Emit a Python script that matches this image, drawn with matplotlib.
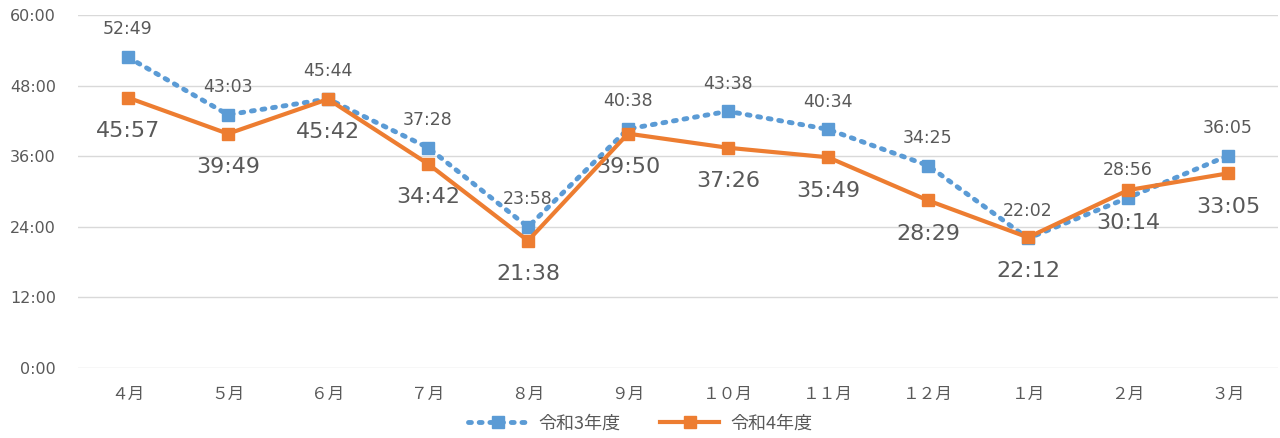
import matplotlib
matplotlib.use('Agg')
import matplotlib.pyplot as plt
from matplotlib.ticker import FixedLocator, FuncFormatter

plt.rcParams['font.family'] = ['Noto Sans CJK JP', 'DejaVu Sans']

# データ（分:秒）
months = ['４月', '５月', '６月', '７月', '８月', '９月', '１０月', '１１月', '１２月', '１月', '２月', '３月']
r3_times = ['52:49', '43:03', '45:44', '37:28', '23:58', '40:38', '43:38', '40:34', '34:25', '22:02', '28:56', '36:05']
r4_times = ['45:57', '39:49', '45:42', '34:42', '21:38', '39:50', '37:26', '35:49', '28:29', '22:12', '30:14', '33:05']
y_ticks = [0, 12, 24, 36, 48, 60]

def to_minutes(s):
    m, sec = s.split(':')
    return int(m) + int(sec) / 60

r3 = [to_minutes(t) for t in r3_times]
r4 = [to_minutes(t) for t in r4_times]
x = list(range(len(months)))

blue = '#5B9BD5'
orange = '#ED7D31'
txt = '#595959'

fig = plt.figure(figsize=(12.8, 4.38), dpi=100)
ax = fig.add_axes([78 / 1280, 70 / 438, 1200 / 1280, 353 / 438])

ax.plot(x, r3, color=blue, linestyle=(0, (0.6, 1.6)), linewidth=3.5, dash_capstyle='round',
        marker='s', markersize=8, label='令和3年度', zorder=3)
ax.plot(x, r4, color=orange, linewidth=3, marker='s', markersize=8, label='令和4年度', zorder=4)

for i in x:
    ax.annotate(r3_times[i], (i, r3[i]), xytext=(0, 20), textcoords='offset points',
                ha='center', va='center', fontsize=12.5, color=txt, family='DejaVu Sans')
    ax.annotate(r4_times[i], (i, r4[i]), xytext=(0, -24), textcoords='offset points',
                ha='center', va='center', fontsize=16, color=txt, family='DejaVu Sans')

ax.set_xlim(-0.5, 11.5)
ax.set_ylim(0, 60)
ax.yaxis.set_major_locator(FixedLocator(y_ticks))
ax.yaxis.set_major_formatter(FuncFormatter(lambda v, p: f'{int(v)}:00'))
ax.set_xticks(x)
ax.set_xticklabels(months)
ax.tick_params(axis='x', length=0, colors=txt, labelsize=12, pad=13)
ax.tick_params(axis='y', length=0, colors=txt, labelsize=11.5, pad=16)
for lab in ax.get_yticklabels():
    lab.set_family('DejaVu Sans')
ax.grid(axis='y', color='#D9D9D9', linewidth=1)
ax.set_axisbelow(True)
for s in ax.spines.values():
    s.set_visible(False)

leg = fig.legend(loc='lower center', ncol=2, frameon=False, fontsize=13,
                 bbox_to_anchor=(0.5, -0.025), handlelength=3.3, columnspacing=2.2,
                 handletextpad=0.6)
for t in leg.get_texts():
    t.set_color(txt)

fig.savefig('out.png', dpi=100)
